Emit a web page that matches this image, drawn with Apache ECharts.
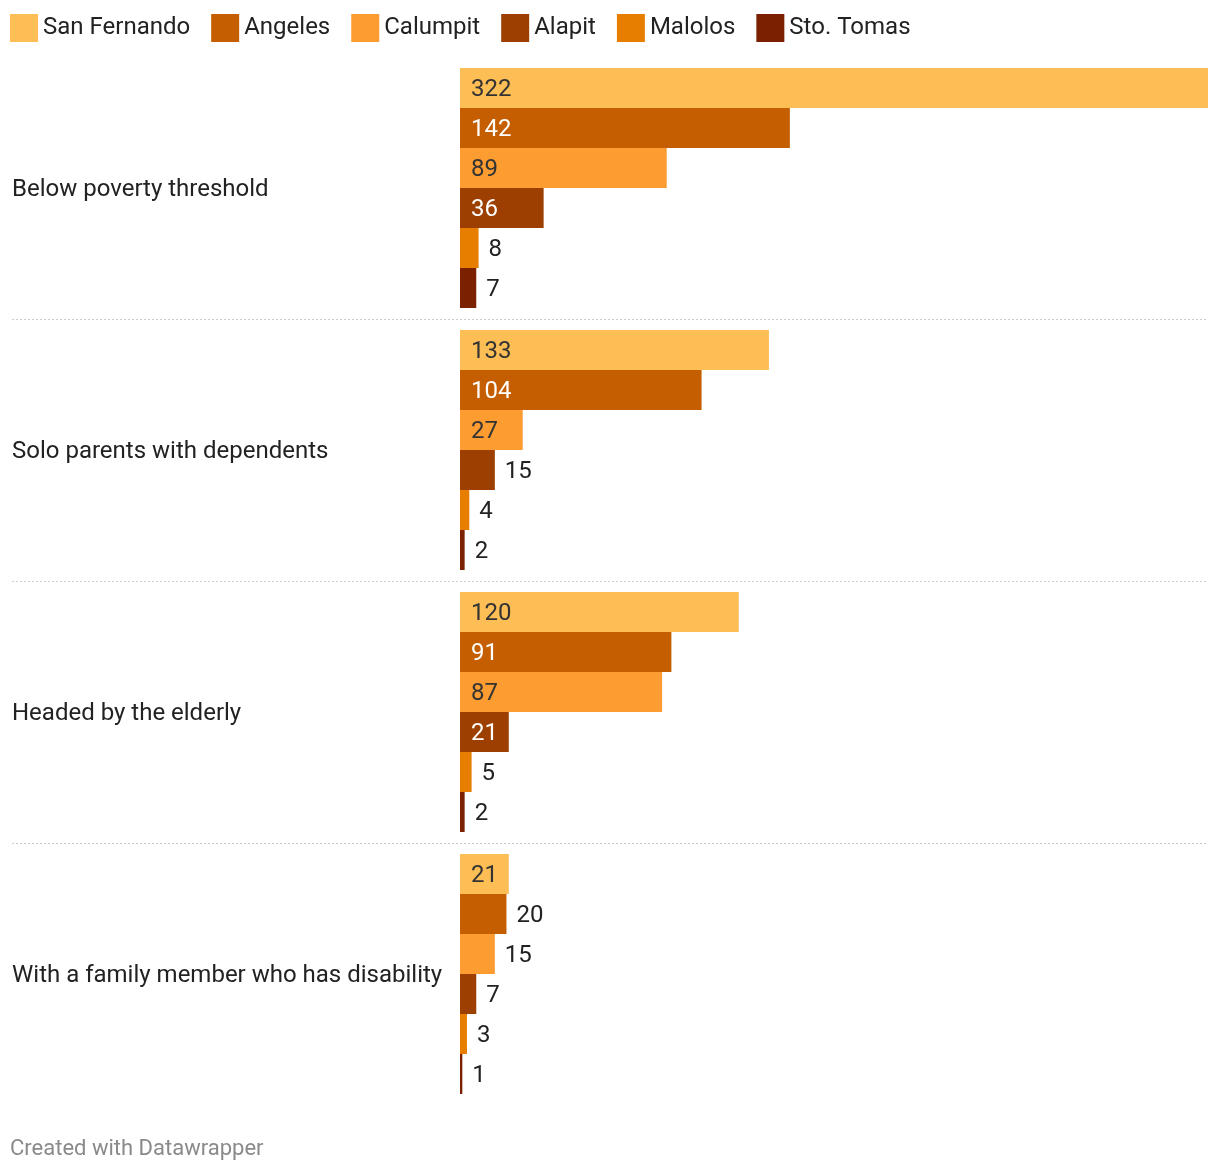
<!DOCTYPE html>
<html>
<head>
<meta charset="utf-8">
<script src="https://cdn.jsdelivr.net/npm/echarts@6/dist/echarts.min.js"></script>
<style>
html,body{margin:0;padding:0;background:#fff;}
#chart{width:1220px;height:1172px;}
</style>
</head>
<body>
<div id="chart"></div>
<script>
var categories = ['Below poverty threshold', 'Solo parents with dependents', 'Headed by the elderly', 'With a family member who has disability'];
var seriesNames = ['San Fernando', 'Angeles', 'Calumpit', 'Alapit', 'Malolos', 'Sto. Tomas'];
var sanFernando = [322, 133, 120, 21];
var angeles = [142, 104, 91, 20];
var calumpit = [89, 27, 87, 15];
var alapit = [36, 15, 21, 7];
var malolos = [8, 4, 5, 3];
var stoTomas = [7, 2, 2, 1];
var seriesValues = [sanFernando, angeles, calumpit, alapit, malolos, stoTomas];
var colors = ['#FDBE55', '#C45E00', '#FD9D31', '#9C3F00', '#E87E00', '#7B2100'];
var insideTextColors = ['#333333', '#ffffff', '#333333', '#ffffff', '#ffffff', '#ffffff'];
var xMax = 322;

var FONT = 'Roboto, "Noto Sans", sans-serif';
var chart = echarts.init(document.getElementById('chart'), null, {renderer: 'canvas'});

var series = seriesNames.map(function (name, si) {
  return {
    name: name,
    type: 'bar',
    xAxisIndex: 0,
    yAxisIndex: 0,
    barGap: '0%',
    barCategoryGap: '8.4%',
    itemStyle: {color: colors[si]},
    emphasis: {disabled: true},
    data: seriesValues[si].map(function (v) {
      var px = v / xMax * 748;
      var inside = px > 47;
      return {
        value: v,
        label: {
          show: true,
          position: inside ? 'insideLeft' : 'right',
          distance: inside ? 11 : 10,
          offset: [0, 2],
          color: inside ? insideTextColors[si] : '#222222',
          fontSize: 24,
          fontFamily: FONT
        }
      };
    })
  };
});

var option = {
  animation: false,
  backgroundColor: '#ffffff',
  color: colors,
  textStyle: {fontFamily: FONT},
  legend: {
    left: 10,
    top: 14,
    padding: 0,
    icon: 'rect',
    itemWidth: 28,
    itemHeight: 28,
    itemGap: 21,
    textStyle: {fontSize: 24, color: '#222222', fontFamily: FONT, padding: [0, 0, 4, 0]},
    data: seriesNames
  },
  title: {
    text: 'Created with Datawrapper',
    left: 10,
    top: 1138,
    padding: 0,
    textStyle: {fontSize: 22, color: '#8a8a8a', fontWeight: 'normal', fontFamily: FONT}
  },
  grid: [
    {left: 460, right: 12, top: 57, bottom: 67, containLabel: false},
    {left: 12, right: 12, top: 57, bottom: 67, containLabel: false}
  ],
  xAxis: [
    {type: 'value', gridIndex: 0, min: 0, max: xMax, show: false},
    {type: 'value', gridIndex: 1, min: 0, max: 1, show: false}
  ],
  yAxis: [
    {
      type: 'category', gridIndex: 0, inverse: true, data: categories,
      axisLine: {show: false}, axisTick: {show: false}, splitLine: {show: false},
      axisLabel: {
        align: 'left', margin: 448, fontSize: 24, color: '#222222', fontFamily: FONT,
        formatter: function (v) { return '{c|' + v + '}'; },
        rich: {c: {fontSize: 24, color: '#222222', fontFamily: FONT, padding: [4, 0, 0, 0]}}
      }
    },
    {
      type: 'value', gridIndex: 1, min: 0, max: 4, interval: 1,
      axisLine: {show: false}, axisTick: {show: false}, axisLabel: {show: false},
      splitLine: {show: true, showMinLine: false, showMaxLine: false,
        lineStyle: {color: '#cccccc', width: 1, type: [2, 2]}}
    }
  ],
  series: series
};
chart.setOption(option);
</script>
</body>
</html>
